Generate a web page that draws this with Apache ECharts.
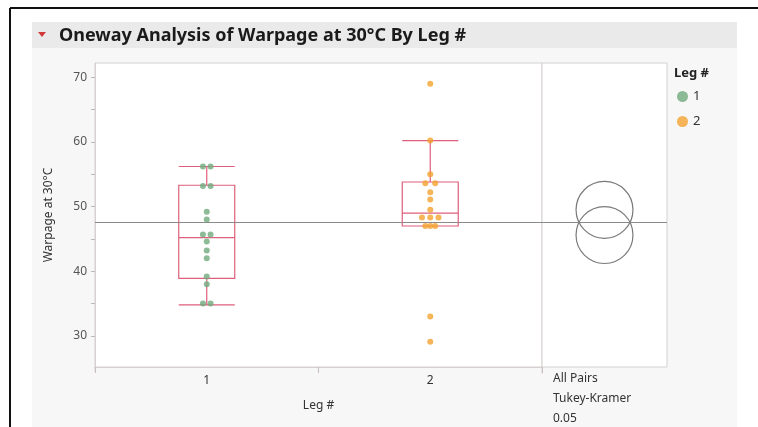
<!DOCTYPE html>
<html>
<head>
<meta charset="utf-8">
<script src="https://cdn.jsdelivr.net/npm/echarts@6/dist/echarts.min.js"></script>
<style>
  html, body { margin: 0; padding: 0; background: #fff; }
  #chart { width: 758px; height: 427px; }
</style>
</head>
<body>
<div id="chart"></div>
<script>
// categories and values
const categories = ['1', '2']
const yTickLabels = [30, 40, 50, 60, 70]
const yTicks = [30, 35, 40, 45, 50, 55, 60, 65, 70]

// Leg 1 points (value + small horizontal jitter in category units)
const leg1Values = [56.2, 56.2, 53.2, 53.2, 49.2, 48.0, 45.7, 45.7, 44.6, 43.2, 42.0, 39.2, 38.0, 35.0, 35.0]
const leg1Jitter = [-0.017, 0.017, -0.017, 0.017, 0, 0, -0.017, 0.017, 0, 0, 0, 0, 0, -0.017, 0.017]
// Leg 2 points
const leg2Values = [69.0, 60.2, 55.0, 53.6, 53.6, 52.2, 51.1, 49.5, 48.3, 48.3, 48.3, 47.0, 47.0, 47.0, 33.0, 29.1]
const leg2Jitter = [0, 0, 0, -0.022, 0.022, 0, 0, 0, -0.037, 0, 0.037, -0.022, 0, 0.022, 0, 0]

// box plot stats [low whisker, Q1, median, Q3, high whisker]
const boxStats = [
  [34.8, 38.9, 45.2, 53.3, 56.2],
  [47.0, 47.0, 49.0, 53.8, 60.2]
]
const grandMean = 47.6
// comparison circles (Tukey-Kramer): centre = group mean, radius in data units
const circleMeans = [45.6, 49.5]
const circleRadius = [4.4, 4.4]

const yMin = 25.2
const yMax = 72.2

const chart = echarts.init(document.getElementById('chart'))

const font = 'Noto Sans'

const option = {
  backgroundColor: '#fff',
  animation: false,
  textStyle: { fontFamily: font },
  title: {
    text: 'Oneway Analysis of Warpage at 30°C By Leg #',
    left: 54,
    top: 22,
    textStyle: { fontSize: 18, fontWeight: 'bold', color: '#1a1a1a', fontFamily: font }
  },
  graphic: [
    { type: 'rect', z: -10, shape: { x: 32, y: 22, width: 705, height: 410 }, style: { fill: '#f7f7f7' } },
    { type: 'rect', z: -9, shape: { x: 32, y: 22, width: 705, height: 26 }, style: { fill: '#eaeaea' } },
    { type: 'polygon', shape: { points: [[38, 32], [46, 32], [42, 37]] }, style: { fill: '#d23a3a' } },
    { type: 'line', shape: { x1: 10, y1: 8, x2: 758, y2: 8 }, style: { stroke: '#111', lineWidth: 2 } },
    { type: 'line', shape: { x1: 10, y1: 8, x2: 10, y2: 427 }, style: { stroke: '#111', lineWidth: 2 } },
    { type: 'line', shape: { x1: 542, y1: 367, x2: 542, y2: 374 }, style: { stroke: '#d6d0d0', lineWidth: 1 } },
    { type: 'line', shape: { x1: 95, y1: 367, x2: 95, y2: 372 }, style: { stroke: '#d6d0d0', lineWidth: 1 } },
    {
      type: 'text', left: 553, top: 369,
      style: { text: 'All Pairs\nTukey-Kramer\n0.05', fill: '#333', font: '12px "Noto Sans"', lineHeight: 20 }
    },
    {
      type: 'text', left: 674, top: 67,
      style: { text: 'Leg #', fill: '#222', font: 'bold 13px "Noto Sans"' }
    }
  ],
  legend: {
    data: categories,
    orient: 'vertical',
    left: 672,
    top: 85,
    icon: 'circle',
    itemWidth: 11,
    itemHeight: 11,
    itemGap: 12,
    textStyle: { fontSize: 13, color: '#333', fontFamily: font }
  },
  grid: [
    { left: 95, top: 63, width: 447, height: 304, show: true, backgroundColor: '#fff', borderColor: '#d6d0d0' },
    { left: 542, top: 63, width: 125, height: 304, show: true, backgroundColor: '#fff', borderColor: '#d6d0d0' }
  ],
  xAxis: [
    {
      type: 'category', gridIndex: 0, data: categories, boundaryGap: true,
      name: 'Leg #', nameLocation: 'middle', nameGap: 33,
      nameTextStyle: { fontSize: 12, color: '#333' },
      axisLine: { show: true, lineStyle: { color: '#d6d0d0' } },
      axisTick: { show: true, length: 6, lineStyle: { color: '#c8c0c0' } },
      axisLabel: { fontSize: 12, color: '#333', margin: 8 },
      splitLine: { show: false }
    },
    { type: 'value', gridIndex: 0, min: 0.5, max: 2.5, show: false },
    { type: 'value', gridIndex: 1, min: 0, max: 1, show: false }
  ],
  yAxis: [
    {
      type: 'value', gridIndex: 0, min: yMin, max: yMax,
      name: 'Warpage at 30°C', nameLocation: 'middle', nameGap: 40,
      nameTextStyle: { fontSize: 12, color: '#333' },
      axisLine: { show: true, lineStyle: { color: '#d6d0d0' } },
      axisTick: { show: true, length: 4, customValues: yTicks, lineStyle: { color: '#bbb' } },
      axisLabel: { fontSize: 12, color: '#555', margin: 8, customValues: yTickLabels },
      splitLine: { show: false }
    },
    { type: 'value', gridIndex: 1, min: yMin, max: yMax, show: false }
  ],
  series: [
    {
      name: 'box',
      type: 'boxplot',
      xAxisIndex: 0,
      yAxisIndex: 0,
      boxWidth: [56, 56],
      data: boxStats,
      itemStyle: { color: 'rgba(255,255,255,0)', borderColor: '#df5f7c', borderWidth: 1.2 },
      z: 2
    },
    {
      name: '1',
      type: 'scatter',
      xAxisIndex: 1,
      yAxisIndex: 0,
      symbolSize: 6,
      itemStyle: { color: '#70aa7d' },
      data: leg1Values.map((v, i) => [1 + leg1Jitter[i], v]),
      z: 5,
      markLine: {
        silent: true,
        symbol: ['none', 'none'],
        label: { show: false },
        lineStyle: { color: '#8a8a8a', type: 'solid', width: 1 },
        data: [{ yAxis: grandMean }]
      }
    },
    {
      name: '2',
      type: 'scatter',
      xAxisIndex: 1,
      yAxisIndex: 0,
      symbolSize: 6,
      itemStyle: { color: '#f3a22e' },
      data: leg2Values.map((v, i) => [2 + leg2Jitter[i], v]),
      z: 5
    },
    {
      name: 'circles',
      type: 'custom',
      xAxisIndex: 2,
      yAxisIndex: 1,
      data: circleMeans.map((m, i) => [0.5, m, circleRadius[i]]),
      renderItem: function (params, api) {
        const c = api.coord([api.value(0), api.value(1)])
        const r = api.size([0, api.value(2)])[1]
        return {
          type: 'circle',
          shape: { cx: c[0], cy: c[1], r: r },
          style: { fill: 'none', stroke: '#7a7a7a', lineWidth: 1.2 }
        }
      },
      markLine: {
        silent: true,
        symbol: ['none', 'none'],
        label: { show: false },
        lineStyle: { color: '#8a8a8a', type: 'solid', width: 1 },
        data: [{ yAxis: grandMean }]
      }
    }
  ]
}

chart.setOption(option)
</script>
</body>
</html>
